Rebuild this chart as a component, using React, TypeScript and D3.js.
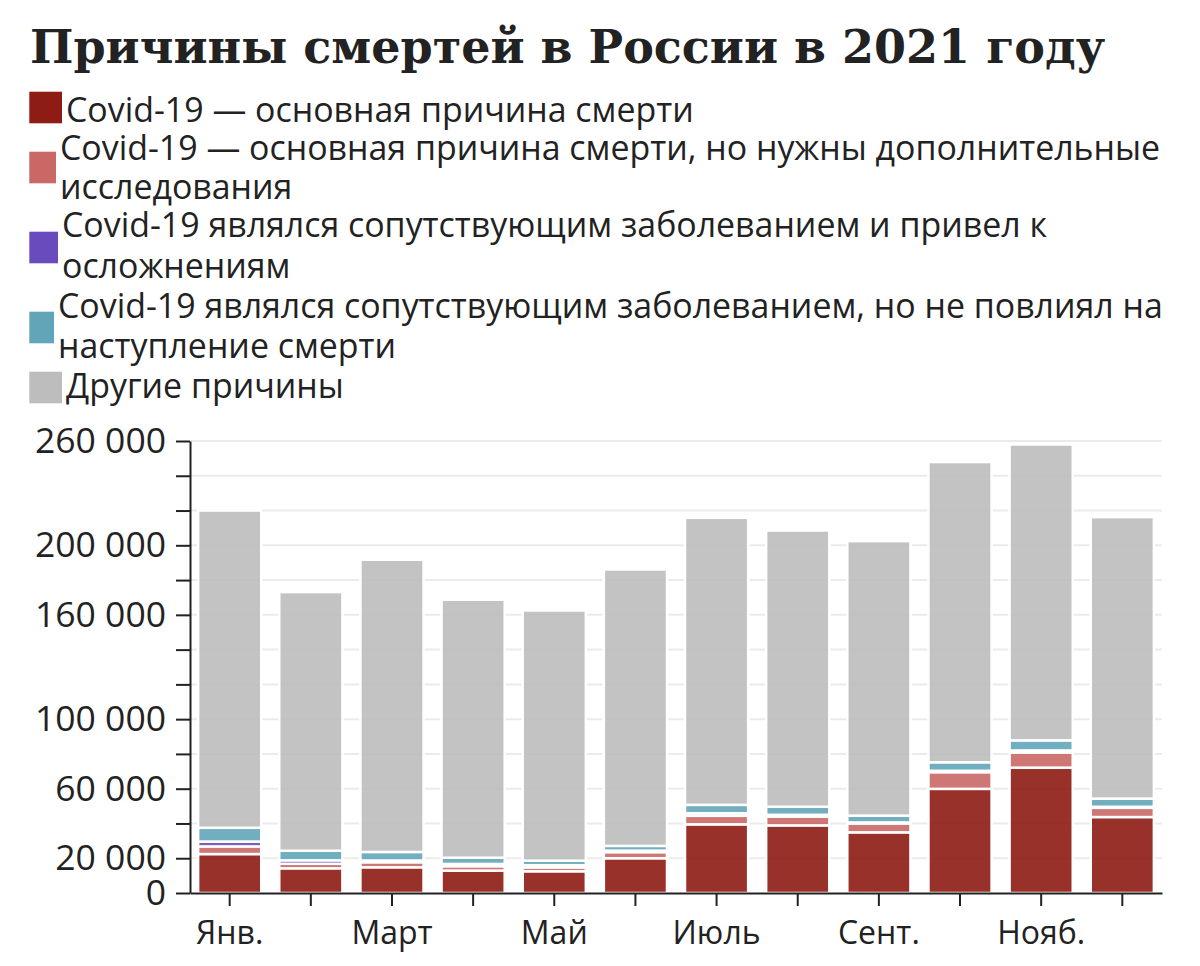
import React, { useRef, useEffect } from 'react';
import { select, scaleLinear, scaleBand, stack, axisLeft, axisBottom, range, formatLocale } from 'd3';

const months = ['Янв.', 'Февр.', 'Март', 'Апр.', 'Май', 'Июнь', 'Июль', 'Авг.', 'Сент.', 'Окт.', 'Нояб.', 'Дек.'];
const labelledMonths = ['Янв.', 'Март', 'Май', 'Июль', 'Сент.', 'Нояб.'];

const covidMain = [22400, 14200, 14800, 12900, 12500, 20000, 39500, 38900, 34900, 59900, 72100, 43700];
const covidMainUnconfirmed = [4400, 2600, 2900, 2500, 2200, 3500, 4900, 5100, 5100, 9600, 8700, 5300];
const covidComplications = [2800, 2000, 1000, 1300, 1300, 900, 1500, 1000, 600, 800, 1200, 600];
const covidNoImpact = [7900, 5500, 4900, 3600, 2600, 2700, 4800, 4600, 3900, 4900, 5800, 4700];
const otherCauses = [182500, 148800, 168100, 148400, 143900, 159000, 165100, 158900, 157900, 172700, 170200, 161900];

const yTicks = range(0, 260001, 20000);
const yTickLabels = [0, 20000, 60000, 100000, 160000, 200000, 260000];

const seriesKeys = ['main', 'unconfirmed', 'complications', 'noImpact', 'other'];
const seriesColors = ['#8e1b14', '#c96865', '#6a4bbd', '#62a5b8', '#bdbdbd'];
const legendLines = [
    ['Covid-19 — основная причина смерти'],
    ['Covid-19 — основная причина смерти, но нужны дополнительные', 'исследования'],
    ['Covid-19 являлся сопутствующим заболеванием и привел к', 'осложнениям'],
    ['Covid-19 являлся сопутствующим заболеванием, но не повлиял на', 'наступление смерти'],
    ['Другие причины'],
];

// legend geometry (swatch widths differ there)
const legendBox = [
    { y: 91.7, w: 32.7, base: [121.7] },
    { y: 151.7, w: 26.7, base: [160, 199] },
    { y: 231.7, w: 28.7, base: [236.7, 278.3] },
    { y: 311.7, w: 24.7, base: [318.3, 358.3] },
    { y: 371.7, w: 32.7, base: [398.3] },
];

const sans = '"Open Sans", "Noto Sans", sans-serif';
const ru = formatLocale({ decimal: ',', thousands: '\u00a0', grouping: [3], currency: ['', ''] });
const fmt = ru.format(',d');

const margin = { top: 441, left: 190, right: 38, bottom: 73 };
const width = 1200;
const height = 966;

const table = months.map((m, i) => ({
    month: m,
    main: covidMain[i],
    unconfirmed: covidMainUnconfirmed[i],
    complications: covidComplications[i],
    noImpact: covidNoImpact[i],
    other: otherCauses[i],
}));

const YAxis = ({ yScale }) => {
    const ref = useRef(null);
    useEffect(() => {
        const g = select(ref.current);
        g.call(axisLeft(yScale).tickValues(yTicks).tickSize(14).tickSizeOuter(0).tickPadding(10)
            .tickFormat(d => yTickLabels.includes(d) ? fmt(d) : ''));
        g.attr('font-family', sans).attr('font-size', 35.5);
        g.select('.domain').attr('stroke', '#222').attr('stroke-width', 2);
        g.selectAll('.tick line').attr('stroke', '#222').attr('stroke-width', 2);
        g.selectAll('.tick text').attr('fill', '#222');
    }, [yScale]);
    return <g ref={ref} transform={`translate(${margin.left}, 0)`} />;
};

const XAxis = ({ xScale, y0 }) => {
    const ref = useRef(null);
    useEffect(() => {
        const g = select(ref.current);
        g.call(axisBottom(xScale).tickSize(13).tickSizeOuter(0).tickPadding(15)
            .tickFormat(d => labelledMonths.includes(d) ? d : ''));
        g.attr('font-family', sans).attr('font-size', 32);
        g.select('.domain').attr('stroke', '#222').attr('stroke-width', 2);
        g.selectAll('.tick line').attr('stroke', '#222').attr('stroke-width', 2);
        g.selectAll('.tick text').attr('fill', '#222');
    }, [xScale]);
    return <g ref={ref} transform={`translate(0, ${y0})`} />;
};

export default function App() {
    const yScale = scaleLinear().domain([0, 260000]).range([height - margin.bottom, margin.top]);
    const xScale = scaleBand().domain(months).range([margin.left, width - margin.right])
        .paddingInner(0.222).paddingOuter(0.1);

    const layers = stack().keys(seriesKeys)(table);

    return (
        <svg width={width} height={height} style={{ position: 'absolute', left: 0, top: 0, background: 'white' }}>
            <text x={30} y={63} fontFamily='"DejaVu Serif", serif' fontWeight="bold" fontSize={46} fill="#222">
                Причины смертей в России в 2021 году
            </text>

            {legendLines.map((lines, i) => (
                <g key={seriesKeys[i]}>
                    <rect x={29.3} y={legendBox[i].y} width={legendBox[i].w} height={31.6} fill={seriesColors[i]} />
                    {lines.map((ln, j) => (
                        <text key={j} x={29.3 + legendBox[i].w + 4} y={legendBox[i].base[j]}
                            fontFamily={sans} fontSize={33.9} fill="#222">{ln}</text>
                    ))}
                </g>
            ))}

            {yTicks.filter(d => d > 0).map(d => (
                <line key={d} x1={margin.left} x2={width - margin.right} y1={yScale(d)} y2={yScale(d)}
                    stroke="#ebebeb" strokeWidth={2} />
            ))}

            {layers.map((layer, i) => (
                <g key={layer.key} fill={seriesColors[i]} fillOpacity={0.9} stroke="white" strokeWidth={2.5}>
                    {layer.map((d, j) => (
                        <rect key={j} x={xScale(months[j])} width={xScale.bandwidth()}
                            y={yScale(d[1])} height={yScale(d[0]) - yScale(d[1])} />
                    ))}
                </g>
            ))}

            <YAxis yScale={yScale} />
            <XAxis xScale={xScale} y0={yScale(0)} />
        </svg>
    );
}
